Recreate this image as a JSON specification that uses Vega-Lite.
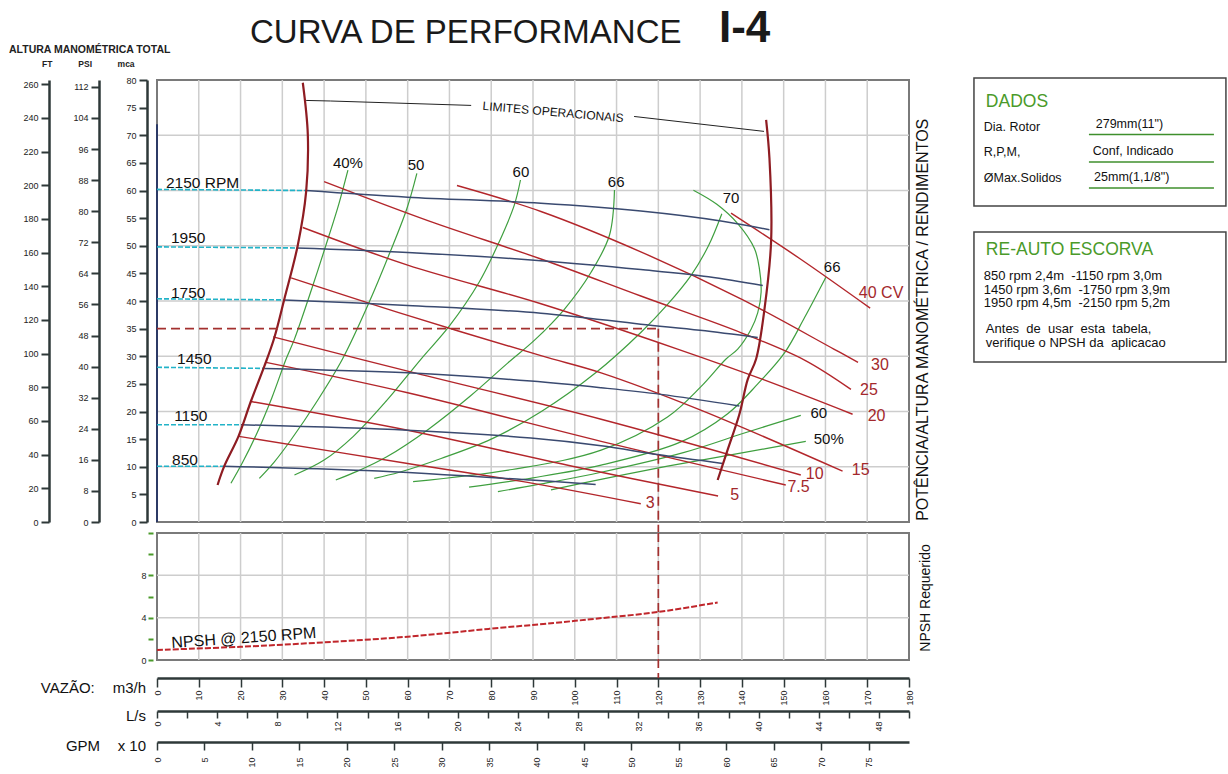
{
"$schema":"https://vega.github.io/schema/vega-lite/v6.json",
"padding":{"left":8,"top":5,"right":0,"bottom":0},
"background":"#ffffff",
"bounds":"flush",
"spacing":11,
"config":{"view":{"stroke":"#7a7a7a","strokeWidth":2},"font":"Liberation Sans"},
"datasets":{
"hd":[{"r":"2150","q":0,"h":60.2},{"r":"2150","q":35.7,"h":60.0},{"r":"1950","q":0,"h":49.8},{"r":"1950","q":33.4,"h":49.6},{"r":"1750","q":0,"h":40.4},{"r":"1750","q":30.4,"h":40.2},{"r":"1450","q":0,"h":28.0},{"r":"1450","q":25.7,"h":27.8},{"r":"1150","q":0,"h":17.6},{"r":"1150","q":20.1,"h":17.6},{"r":"850","q":0,"h":10.1},{"r":"850","q":16.1,"h":10.1}],
"hs":[{"r":"2150","q":35.7,"h":60.0},{"r":"2150","q":60,"h":58.8},{"r":"2150","q":91.9,"h":57.7},{"r":"2150","q":115.8,"h":56.3},{"r":"2150","q":135,"h":54.5},{"r":"2150","q":146.6,"h":52.9},
{"r":"1950","q":33.4,"h":49.6},{"r":"1950","q":60,"h":48.8},{"r":"1950","q":91.9,"h":47.3},{"r":"1950","q":115.8,"h":45.7},{"r":"1950","q":132,"h":44.4},{"r":"1950","q":145,"h":42.8},
{"r":"1750","q":30.4,"h":40.2},{"r":"1750","q":60,"h":39.2},{"r":"1750","q":91.9,"h":37.8},{"r":"1750","q":115.8,"h":35.8},{"r":"1750","q":130,"h":34.7},{"r":"1750","q":143.8,"h":33.4},
{"r":"1450","q":25.7,"h":27.8},{"r":"1450","q":60,"h":27.0},{"r":"1450","q":89.5,"h":25.5},{"r":"1450","q":106.3,"h":24.3},{"r":"1450","q":120.6,"h":23.1},{"r":"1450","q":139.4,"h":21.0},
{"r":"1150","q":20.1,"h":17.6},{"r":"1150","q":60,"h":16.6},{"r":"1150","q":89.5,"h":15.2},{"r":"1150","q":106.3,"h":13.8},{"r":"1150","q":119.8,"h":12.2},{"r":"1150","q":135.4,"h":10.6},
{"r":"850","q":16.1,"h":10.1},{"r":"850","q":50,"h":9.3},{"r":"850","q":89.5,"h":7.6},{"r":"850","q":105,"h":6.8}],
"pw":[{"c":"40","q":137.4,"h":55.9},{"c":"40","q":154,"h":47.6},{"c":"40","q":170.7,"h":38.7},
{"c":"30","q":71.8,"h":60.9},{"c":"30","q":91.9,"h":56.2},{"c":"30","q":115.8,"h":48.9},{"c":"30","q":140,"h":40.3},{"c":"30","q":162,"h":31.3},{"c":"30","q":167.8,"h":28.9},
{"c":"25","q":40,"h":61.6},{"c":"25","q":65,"h":54.5},{"c":"25","q":91.9,"h":47.6},{"c":"25","q":115.8,"h":40.9},{"c":"25","q":140,"h":34.2},{"c":"25","q":155,"h":29.3},{"c":"25","q":166.1,"h":24.0},
{"c":"20","q":34.9,"h":53.3},{"c":"20","q":60,"h":46.5},{"c":"20","q":91.9,"h":39.5},{"c":"20","q":124.6,"h":31.3},{"c":"20","q":145,"h":25.8},{"c":"20","q":166.5,"h":19.5},
{"c":"15","q":32.1,"h":44.2},{"c":"15","q":60,"h":37.4},{"c":"15","q":91.9,"h":30.1},{"c":"15","q":106.3,"h":27.0},{"c":"15","q":130,"h":20.3},{"c":"15","q":164.1,"h":9.2},
{"c":"10","q":27.8,"h":33.5},{"c":"10","q":60,"h":27.3},{"c":"10","q":106.3,"h":18.6},{"c":"10","q":154.1,"h":8.5},
{"c":"7.5","q":26.1,"h":28.9},{"c":"7.5","q":60,"h":23.4},{"c":"7.5","q":106.3,"h":14.6},{"c":"7.5","q":150.5,"h":6.7},
{"c":"5","q":22.5,"h":21.8},{"c":"5","q":60,"h":16.6},{"c":"5","q":100,"h":10.0},{"c":"5","q":134.3,"h":4.7},
{"c":"3","q":19.6,"h":15.5},{"c":"3","q":60,"h":10.6},{"c":"3","q":90,"h":7.0},{"c":"3","q":115.8,"h":3.3}],
"eff":[{"c":"L40","i":0,"q":45.7,"h":63.7},{"c":"L40","i":1,"q":43.5,"h":57.5},{"c":"L40","i":2,"q":41.2,"h":51.9},{"c":"L40","i":3,"q":37.3,"h":42.8},{"c":"L40","i":4,"q":32.9,"h":33.1},{"c":"L40","i":5,"q":30.9,"h":29.5},{"c":"L40","i":6,"q":27.5,"h":22.5},{"c":"L40","i":7,"q":24,"h":16.2},{"c":"L40","i":8,"q":20.5,"h":10.8},{"c":"L40","i":9,"q":17.7,"h":7.0},
{"c":"L50","i":0,"q":62.2,"h":63.1},{"c":"L50","i":1,"q":59.8,"h":56.7},{"c":"L50","i":2,"q":55.6,"h":48.5},{"c":"L50","i":3,"q":50.8,"h":39.8},{"c":"L50","i":4,"q":44.4,"h":29.5},{"c":"L50","i":5,"q":38,"h":21.5},{"c":"L50","i":6,"q":32,"h":14.8},{"c":"L50","i":7,"q":28,"h":10.8},{"c":"L50","i":8,"q":24.5,"h":7.9},
{"c":"L60","i":0,"q":87,"h":61.9},{"c":"L60","i":1,"q":85.5,"h":57.3},{"c":"L60","i":2,"q":81.9,"h":50.7},{"c":"L60","i":3,"q":77.1,"h":43.4},{"c":"L60","i":4,"q":70,"h":35.5},{"c":"L60","i":5,"q":63.2,"h":29.5},{"c":"L60","i":6,"q":55,"h":22},{"c":"L60","i":7,"q":47,"h":15.5},{"c":"L60","i":8,"q":40,"h":11.2},{"c":"L60","i":9,"q":32.9,"h":8.5},
{"c":"L66","i":0,"q":109.5,"h":60.1},{"c":"L66","i":1,"q":108.3,"h":51.9},{"c":"L66","i":2,"q":103.9,"h":45.2},{"c":"L66","i":3,"q":97.5,"h":38.5},{"c":"L66","i":4,"q":90.5,"h":33},{"c":"L66","i":5,"q":84,"h":28.8},{"c":"L66","i":6,"q":75,"h":22.8},{"c":"L66","i":7,"q":65,"h":16.8},{"c":"L66","i":8,"q":55,"h":11.8},{"c":"L66","i":9,"q":48,"h":9.2},{"c":"L66","i":10,"q":42.8,"h":7.6},
{"c":"L70","i":0,"q":135.2,"h":55.8},{"c":"L70","i":1,"q":132,"h":50},{"c":"L70","i":2,"q":127.8,"h":44.6},{"c":"L70","i":3,"q":122,"h":39.2},{"c":"L70","i":4,"q":115.8,"h":34.3},{"c":"L70","i":5,"q":105,"h":27},{"c":"L70","i":6,"q":92,"h":20},{"c":"L70","i":7,"q":80,"h":15},{"c":"L70","i":8,"q":68,"h":11.5},{"c":"L70","i":9,"q":58,"h":9},{"c":"L70","i":10,"q":52,"h":7.9},
{"c":"R70","i":0,"q":128.4,"h":60.05},{"c":"R70","i":1,"q":134,"h":57.5},{"c":"R70","i":2,"q":139,"h":54},{"c":"R70","i":3,"q":143,"h":49.5},{"c":"R70","i":4,"q":144.2,"h":45.8},{"c":"R70","i":5,"q":144.6,"h":41.6},{"c":"R70","i":6,"q":143.8,"h":37.9},{"c":"R70","i":7,"q":142.2,"h":34.9},{"c":"R70","i":8,"q":139,"h":31.3},{"c":"R70","i":9,"q":136.2,"h":29.5},{"c":"R70","i":10,"q":130.2,"h":24.5},{"c":"R70","i":11,"q":122.2,"h":19},{"c":"R70","i":12,"q":106.3,"h":13},{"c":"R70","i":13,"q":85,"h":9.5},{"c":"R70","i":14,"q":61.3,"h":7.3},
{"c":"R66","i":0,"q":160.1,"h":44.3},{"c":"R66","i":1,"q":155,"h":37},{"c":"R66","i":2,"q":150.2,"h":30.6},{"c":"R66","i":3,"q":143.8,"h":25},{"c":"R66","i":4,"q":136.6,"h":19.6},{"c":"R66","i":5,"q":125.4,"h":14.5},{"c":"R66","i":6,"q":106.3,"h":10.3},{"c":"R66","i":7,"q":90,"h":8},{"c":"R66","i":8,"q":74.7,"h":6.3},
{"c":"R60","i":0,"q":154.1,"h":19.3},{"c":"R60","i":1,"q":140.6,"h":16.1},{"c":"R60","i":2,"q":126.2,"h":12.6},{"c":"R60","i":3,"q":106.3,"h":9},{"c":"R60","i":4,"q":95,"h":7.3},{"c":"R60","i":5,"q":81.6,"h":5.5},
{"c":"R50","i":0,"q":155.3,"h":14.6},{"c":"R50","i":1,"q":140,"h":12.5},{"c":"R50","i":2,"q":122.2,"h":10.1},{"c":"R50","i":3,"q":108,"h":8},{"c":"R50","i":4,"q":94.3,"h":5.8}],
"lim":[{"c":"L","i":0,"q":34.9,"h":79.5},{"c":"L","i":1,"q":36.1,"h":70.1},{"c":"L","i":2,"q":35.7,"h":59.8},{"c":"L","i":3,"q":33.7,"h":50.1},{"c":"L","i":4,"q":30.5,"h":40.4},{"c":"L","i":5,"q":28.1,"h":33.4},{"c":"L","i":6,"q":25.7,"h":28.2},{"c":"L","i":7,"q":22.5,"h":21.9},{"c":"L","i":8,"q":19.5,"h":15.5},{"c":"L","i":9,"q":16.1,"h":10.1},{"c":"L","i":10,"q":14.5,"h":6.7},
{"c":"R","i":0,"q":145.8,"h":72.8},{"c":"R","i":1,"q":146.6,"h":65.8},{"c":"R","i":2,"q":147,"h":50.9},{"c":"R","i":3,"q":145.4,"h":38.5},{"c":"R","i":4,"q":143.4,"h":29.5},{"c":"R","i":5,"q":141.4,"h":25.8},{"c":"R","i":6,"q":139.4,"h":19.5},{"c":"R","i":7,"q":136.6,"h":13.1},{"c":"R","i":8,"q":134.2,"h":7.6}],
"lead":[{"c":"a","i":0,"q":35.7,"h":76.3},{"c":"a","i":1,"q":41.5,"h":76.2},{"c":"a","i":2,"q":75.2,"h":75.4},{"c":"b","i":0,"q":114.2,"h":73.4},{"c":"b","i":1,"q":145.3,"h":70.7}],
"npsh":[{"q":0,"n":0.95},{"q":20,"n":1.25},{"q":39.6,"n":1.66},{"q":60,"n":2.2},{"q":79.4,"n":2.94},{"q":95,"n":3.5},{"q":105,"n":3.9},{"q":120,"n":4.54},{"q":134.2,"n":5.44}]
},
"vconcat":[
{
"width":752,"height":442,
"resolve":{"scale":{"y":"independent"}},
"layer":[
{"data":{"values":[{"q":10},{"q":20},{"q":30},{"q":40},{"q":50},{"q":60},{"q":70},{"q":80},{"q":90},{"q":100},{"q":110},{"q":120},{"q":130},{"q":140},{"q":150},{"q":160},{"q":170}]},
"mark":{"type":"rule","color":"#cdcdcd","strokeWidth":1.5},
"encoding":{"x":{"field":"q","type":"quantitative","scale":{"domain":[0,180],"nice":false},"axis":null},"y":{"datum":0,"type":"quantitative","scale":{"domain":[0,80],"nice":false},"axis":null},"y2":{"datum":80}}},
{"data":{"values":[{"h":10},{"h":20},{"h":30},{"h":40},{"h":50},{"h":60},{"h":70}]},
"mark":{"type":"rule","color":"#cdcdcd","strokeWidth":1.5},
"encoding":{"x":{"datum":0,"type":"quantitative","scale":{"domain":[0,180],"nice":false},"axis":null},"x2":{"datum":180},"y":{"field":"h","type":"quantitative","scale":{"domain":[0,80],"nice":false},
"axis":{"orient":"left","offset":10,"values":[0,5,10,15,20,25,30,35,40,45,50,55,60,65,70,75,80],"title":null,"grid":false,"domainColor":"#2e3838","domainWidth":2.5,"tickColor":"#2e3838","tickWidth":2,"tickSize":8,"labelFontSize":9,"labelColor":"#222","labelPadding":3,"labelFlush":false,"labelOverlap":false,"labelFont":"Liberation Sans Narrow, Liberation Sans"}}}},
{"data":{"values":[{"q":0,"h":0,"h2":72}]},
"mark":{"type":"rule","color":"#2c3a66","strokeWidth":2},
"encoding":{"x":{"field":"q","type":"quantitative","scale":{"domain":[0,180],"nice":false},"axis":null},"y":{"field":"h","type":"quantitative","scale":{"domain":[0,80],"nice":false},"axis":null},"y2":{"field":"h2"}}},
{"data":{"name":"hd"},
"mark":{"type":"line","color":"#22b3c8","strokeWidth":1.6,"strokeDash":[5,2]},
"encoding":{"x":{"field":"q","type":"quantitative","scale":{"domain":[0,180],"nice":false},"axis":null},"y":{"field":"h","type":"quantitative","scale":{"domain":[0,80],"nice":false},"axis":null},"detail":{"field":"r"}}},
{"data":{"name":"eff"},
"mark":{"type":"line","color":"#3f9f3f","strokeWidth":1.2,"interpolate":"catmull-rom"},
"encoding":{"x":{"field":"q","type":"quantitative","scale":{"domain":[0,180],"nice":false},"axis":null},"y":{"field":"h","type":"quantitative","scale":{"domain":[0,80],"nice":false},"axis":null},"detail":{"field":"c"},"order":{"field":"i","type":"quantitative"}}},
{"data":{"name":"pw"},
"mark":{"type":"line","color":"#b3262b","strokeWidth":1.4,"interpolate":"catmull-rom"},
"encoding":{"x":{"field":"q","type":"quantitative","scale":{"domain":[0,180],"nice":false},"axis":null},"y":{"field":"h","type":"quantitative","scale":{"domain":[0,80],"nice":false},"axis":null},"detail":{"field":"c"}}},
{"data":{"name":"hs"},
"mark":{"type":"line","color":"#3a4a70","strokeWidth":1.5,"interpolate":"catmull-rom"},
"encoding":{"x":{"field":"q","type":"quantitative","scale":{"domain":[0,180],"nice":false},"axis":null},"y":{"field":"h","type":"quantitative","scale":{"domain":[0,80],"nice":false},"axis":null},"detail":{"field":"r"}}},
{"data":{"name":"lim"},
"mark":{"type":"line","color":"#8e1c22","strokeWidth":2.2,"interpolate":"catmull-rom"},
"encoding":{"x":{"field":"q","type":"quantitative","scale":{"domain":[0,180],"nice":false},"axis":null},"y":{"field":"h","type":"quantitative","scale":{"domain":[0,80],"nice":false},"axis":null},"detail":{"field":"c"},"order":{"field":"i","type":"quantitative"}}},
{"data":{"name":"lead"},
"mark":{"type":"line","color":"#222","strokeWidth":1},
"encoding":{"x":{"field":"q","type":"quantitative","scale":{"domain":[0,180],"nice":false},"axis":null},"y":{"field":"h","type":"quantitative","scale":{"domain":[0,80],"nice":false},"axis":null},"detail":{"field":"c"},"order":{"field":"i","type":"quantitative"}}},
{"data":{"values":[{"q":0,"q2":120,"h":35,"h2":35},{"q":120,"q2":120,"h":35,"h2":-2}]},
"mark":{"type":"rule","color":"#a3302f","strokeWidth":1.7,"strokeDash":[9,5]},
"encoding":{"x":{"field":"q","type":"quantitative","scale":{"domain":[0,180],"nice":false},"axis":null},"x2":{"field":"q2"},"y":{"field":"h","type":"quantitative","scale":{"domain":[0,80],"nice":false},"axis":null},"y2":{"field":"h2"}}},
{"data":{"values":[{"t":"2150 RPM","q":2.15,"h":61.4},{"t":"1950","q":3.35,"h":51.4},{"t":"1750","q":3.35,"h":41.4},{"t":"1450","q":4.8,"h":29.5},{"t":"1150","q":4.1,"h":19.2},{"t":"850","q":3.6,"h":11.2}]},
"mark":{"type":"text","align":"left","baseline":"middle","fontSize":15.5,"color":"#111"},
"encoding":{"x":{"field":"q","type":"quantitative","scale":{"domain":[0,180],"nice":false},"axis":null},"y":{"field":"h","type":"quantitative","scale":{"domain":[0,80],"nice":false},"axis":null},"text":{"field":"t"}}},
{"data":{"values":[{"t":"40%","q":45.7,"h":65.0},{"t":"50","q":62.0,"h":64.6},{"t":"60","q":87.1,"h":63.3},{"t":"66","q":109.9,"h":61.5},{"t":"70","q":137.4,"h":58.6},{"t":"66","q":161.6,"h":46.2},{"t":"60","q":158.4,"h":19.7},{"t":"50%","q":160.8,"h":15.0}]},
"mark":{"type":"text","align":"center","baseline":"middle","fontSize":15,"color":"#111"},
"encoding":{"x":{"field":"q","type":"quantitative","scale":{"domain":[0,180],"nice":false},"axis":null},"y":{"field":"h","type":"quantitative","scale":{"domain":[0,80],"nice":false},"axis":null},"text":{"field":"t"}}},
{"data":{"values":[{"t":"40 CV","q":168.0,"h":41.4},{"t":"30","q":170.9,"h":28.4},{"t":"25","q":168.3,"h":23.9},{"t":"20","q":170.1,"h":19.1},{"t":"15","q":166.3,"h":9.4},{"t":"10","q":155.3,"h":8.7},{"t":"7.5","q":150.9,"h":6.4},{"t":"5","q":137.2,"h":4.9},{"t":"3","q":117.0,"h":3.4}]},
"mark":{"type":"text","align":"left","baseline":"middle","fontSize":16,"color":"#a3282c"},
"encoding":{"x":{"field":"q","type":"quantitative","scale":{"domain":[0,180],"nice":false},"axis":null},"y":{"field":"h","type":"quantitative","scale":{"domain":[0,80],"nice":false},"axis":null},"text":{"field":"t"}}},
{"data":{"values":[{"t":"LIMITES OPERACIONAIS","q":94.8,"h":74.2}]},
"mark":{"type":"text","align":"center","baseline":"middle","fontSize":12,"angle":5,"color":"#111"},
"encoding":{"x":{"field":"q","type":"quantitative","scale":{"domain":[0,180],"nice":false},"axis":null},"y":{"field":"h","type":"quantitative","scale":{"domain":[0,80],"nice":false},"axis":null},"text":{"field":"t"}}},
{"data":{"values":[{"t":"CURVA DE PERFORMANCE","q":22.26,"h":86.7}]},
"mark":{"type":"text","align":"left","baseline":"alphabetic","fontSize":33,"color":"#1a1a1a"},
"encoding":{"x":{"field":"q","type":"quantitative","scale":{"domain":[0,180],"nice":false},"axis":null},"y":{"field":"h","type":"quantitative","scale":{"domain":[0,80],"nice":false},"axis":null},"text":{"field":"t"}}},
{"data":{"values":[{"t":"I-4","q":134.5,"h":86.9}]},
"mark":{"type":"text","align":"left","baseline":"alphabetic","fontSize":44,"fontWeight":"bold","color":"#1a1a1a"},
"encoding":{"x":{"field":"q","type":"quantitative","scale":{"domain":[0,180],"nice":false},"axis":null},"y":{"field":"h","type":"quantitative","scale":{"domain":[0,80],"nice":false},"axis":null},"text":{"field":"t"}}},
{"data":{"values":[{"t":"ALTURA MANOMÉTRICA TOTAL","q":-35.42,"h":85.4}]},
"mark":{"type":"text","align":"left","baseline":"middle","fontSize":10.5,"fontWeight":"bold","color":"#222"},
"encoding":{"x":{"field":"q","type":"quantitative","scale":{"domain":[0,180],"nice":false},"axis":null},"y":{"field":"h","type":"quantitative","scale":{"domain":[0,80],"nice":false},"axis":null},"text":{"field":"t"}}},
{"data":{"values":[{"t":"FT","q":-26.3,"h":82.9},{"t":"PSI","q":-17.2,"h":82.9},{"t":"mca","q":-7.4,"h":82.9}]},
"mark":{"type":"text","align":"center","baseline":"middle","fontSize":8.5,"fontWeight":"bold","color":"#222"},
"encoding":{"x":{"field":"q","type":"quantitative","scale":{"domain":[0,180],"nice":false},"axis":null},"y":{"field":"h","type":"quantitative","scale":{"domain":[0,80],"nice":false},"axis":null},"text":{"field":"t"}}},
{"data":{"values":[{"t":"POTÊNCIA/ALTURA MANOMÉTRICA / RENDIMENTOS","q":183.3,"h":36.6}]},
"mark":{"type":"text","align":"center","baseline":"middle","fontSize":16,"angle":270,"color":"#111"},
"encoding":{"x":{"field":"q","type":"quantitative","scale":{"domain":[0,180],"nice":false},"axis":null},"y":{"field":"h","type":"quantitative","scale":{"domain":[0,80],"nice":false},"axis":null},"text":{"field":"t"}}},
{"data":{"values":[{"q":195.55,"q2":255.86,"h":80.36,"h2":57.19},{"q":195.55,"q2":255.86,"h":52.49,"h2":28.96}]},
"mark":{"type":"rect","filled":false,"color":"#444","strokeWidth":1.5},
"encoding":{"x":{"field":"q","type":"quantitative","scale":{"domain":[0,180],"nice":false},"axis":null},"x2":{"field":"q2"},"y":{"field":"h","type":"quantitative","scale":{"domain":[0,80],"nice":false},"axis":null},"y2":{"field":"h2"}}},
{"data":{"values":[{"q":223.07,"q2":252.99,"h":70.14},{"q":223.07,"q2":252.99,"h":65.16},{"q":223.07,"q2":252.99,"h":60.45}]},
"mark":{"type":"rule","color":"#3f8f2c","strokeWidth":1.6},
"encoding":{"x":{"field":"q","type":"quantitative","scale":{"domain":[0,180],"nice":false},"axis":null},"x2":{"field":"q2"},"y":{"field":"h","type":"quantitative","scale":{"domain":[0,80],"nice":false},"axis":null}}},
{"data":{"values":[{"t":"DADOS","q":198.4,"h":76.0},{"t":"RE-AUTO ESCORVA","q":198.4,"h":49.2}]},
"mark":{"type":"text","align":"left","baseline":"middle","fontSize":17.5,"color":"#4a9a2a"},
"encoding":{"x":{"field":"q","type":"quantitative","scale":{"domain":[0,180],"nice":false},"axis":null},"y":{"field":"h","type":"quantitative","scale":{"domain":[0,80],"nice":false},"axis":null},"text":{"field":"t"}}},
{"data":{"values":[{"t":"Dia. Rotor","q":197.9,"h":71.5},{"t":"279mm(11\")","q":224.7,"h":72.1},{"t":"R,P,M,","q":197.9,"h":67.0},{"t":"Conf, Indicado","q":224.0,"h":67.2},{"t":"ØMax.Solidos","q":197.9,"h":62.3},{"t":"25mm(1,1/8\")","q":224.3,"h":62.4}]},
"mark":{"type":"text","align":"left","baseline":"middle","fontSize":12.5,"color":"#111"},
"encoding":{"x":{"field":"q","type":"quantitative","scale":{"domain":[0,180],"nice":false},"axis":null},"y":{"field":"h","type":"quantitative","scale":{"domain":[0,80],"nice":false},"axis":null},"text":{"field":"t"}}},
{"data":{"values":[{"t":"850 rpm 2,4m \u00a0-1150 rpm 3,0m","q":197.9,"h":44.5},{"t":"1450 rpm 3,6m \u00a0-1750 rpm 3,9m","q":197.9,"h":42.0},{"t":"1950 rpm 4,5m \u00a0-2150 rpm 5,2m","q":197.9,"h":39.6},{"t":"Antes \u00a0de \u00a0usar \u00a0esta \u00a0tabela,","q":198.4,"h":34.9},{"t":"verifique o NPSH da \u00a0aplicacao","q":198.4,"h":32.4}]},
"mark":{"type":"text","align":"left","baseline":"middle","fontSize":13,"color":"#111"},
"encoding":{"x":{"field":"q","type":"quantitative","scale":{"domain":[0,180],"nice":false},"axis":null},"y":{"field":"h","type":"quantitative","scale":{"domain":[0,80],"nice":false},"axis":null},"text":{"field":"t"}}},
{"data":{"values":[{"ft":0},{"ft":262.47}]},
"mark":{"type":"point","opacity":0},
"encoding":{"x":{"datum":0,"type":"quantitative","scale":{"domain":[0,180],"nice":false},"axis":null},"y":{"field":"ft","type":"quantitative","scale":{"domain":[0,262.47],"nice":false},
"axis":{"orient":"left","offset":108,"values":[0,20,40,60,80,100,120,140,160,180,200,220,240,260],"title":null,"grid":false,"domainColor":"#2e3838","domainWidth":2.5,"tickColor":"#2e3838","tickWidth":2,"tickSize":8,"labelFontSize":9,"labelColor":"#222","labelPadding":3,"labelFlush":false,"labelOverlap":false,"labelFont":"Liberation Sans Narrow, Liberation Sans"}}}},
{"data":{"values":[{"psi":0},{"psi":113.78}]},
"mark":{"type":"point","opacity":0},
"encoding":{"x":{"datum":0,"type":"quantitative","scale":{"domain":[0,180],"nice":false},"axis":null},"y":{"field":"psi","type":"quantitative","scale":{"domain":[0,113.78],"nice":false},
"axis":{"orient":"left","offset":58,"values":[0,8,16,24,32,40,48,56,64,72,80,88,96,104,112],"title":null,"grid":false,"domainColor":"#2e3838","domainWidth":2.5,"tickColor":"#2e3838","tickWidth":2,"tickSize":8,"labelFontSize":9,"labelColor":"#222","labelPadding":3,"labelFlush":false,"labelOverlap":false,"labelFont":"Liberation Sans Narrow, Liberation Sans"}}}}
]
},
{
"width":752,"height":127,
"resolve":{"scale":{"x":"independent","y":"independent"}},
"layer":[
{"data":{"values":[{"q":10},{"q":20},{"q":30},{"q":40},{"q":50},{"q":60},{"q":70},{"q":80},{"q":90},{"q":100},{"q":110},{"q":120},{"q":130},{"q":140},{"q":150},{"q":160},{"q":170}]},
"mark":{"type":"rule","color":"#cdcdcd","strokeWidth":1.5},
"encoding":{"x":{"field":"q","type":"quantitative","scale":{"domain":[0,180],"nice":false},
"axis":{"orient":"bottom","offset":18,"values":[0,10,20,30,40,50,60,70,80,90,100,110,120,130,140,150,160,170,180],"title":null,"grid":false,"labelAngle":270,"domainColor":"#2e3838","domainWidth":2.5,"tickColor":"#2e3838","tickWidth":1.5,"tickSize":9,"labelFontSize":9,"labelColor":"#222","labelPadding":3,"labelFlush":false,"labelOverlap":false,"labelFont":"Liberation Sans Narrow, Liberation Sans"}},
"y":{"datum":0,"type":"quantitative","scale":{"domain":[0,12],"nice":false},"axis":null},"y2":{"datum":12}}},
{"data":{"values":[{"n":4},{"n":8}]},
"mark":{"type":"rule","color":"#cdcdcd","strokeWidth":1.5},
"encoding":{"x":{"datum":0,"type":"quantitative","scale":{"domain":[0,180],"nice":false},"axis":null},"x2":{"datum":180},"y":{"field":"n","type":"quantitative","scale":{"domain":[0,12],"nice":false},
"axis":{"orient":"left","offset":4,"values":[0,2,4,6,8,10,12],"labelExpr":"datum.value==0||datum.value==4||datum.value==8 ? datum.label : ''","title":null,"grid":false,"domain":false,"tickColor":"#4a9a2a","tickWidth":2,"tickSize":5,"labelFontSize":9,"labelColor":"#222","labelPadding":2,"labelFlush":false,"labelOverlap":false,"labelFont":"Liberation Sans Narrow, Liberation Sans"}}}},
{"data":{"name":"npsh"},
"mark":{"type":"line","color":"#c0262b","strokeWidth":2,"strokeDash":[6,2],"interpolate":"catmull-rom"},
"encoding":{"x":{"field":"q","type":"quantitative","scale":{"domain":[0,180],"nice":false},"axis":null},"y":{"field":"n","type":"quantitative","scale":{"domain":[0,12],"nice":false},"axis":null}}},
{"data":{"values":[{"q":120,"n":12,"n2":-1.7}]},
"mark":{"type":"rule","color":"#a3302f","strokeWidth":1.7,"strokeDash":[9,5]},
"encoding":{"x":{"field":"q","type":"quantitative","scale":{"domain":[0,180],"nice":false},"axis":null},"y":{"field":"n","type":"quantitative","scale":{"domain":[0,12],"nice":false},"axis":null},"y2":{"field":"n2"}}},
{"data":{"values":[{"t":"NPSH @ 2150 RPM","q":20.8,"n":2.08}]},
"mark":{"type":"text","align":"center","baseline":"middle","fontSize":16,"angle":-4,"color":"#111"},
"encoding":{"x":{"field":"q","type":"quantitative","scale":{"domain":[0,180],"nice":false},"axis":null},"y":{"field":"n","type":"quantitative","scale":{"domain":[0,12],"nice":false},"axis":null},"text":{"field":"t"}}},
{"data":{"values":[{"t":"NPSH Requerido","q":184,"n":5.86}]},
"mark":{"type":"text","align":"center","baseline":"middle","fontSize":14,"angle":270,"color":"#111"},
"encoding":{"x":{"field":"q","type":"quantitative","scale":{"domain":[0,180],"nice":false},"axis":null},"y":{"field":"n","type":"quantitative","scale":{"domain":[0,12],"nice":false},"axis":null},"text":{"field":"t"}}},
{"data":{"values":[{"t":"VAZÃO:","q":-27.8,"n":-2.65},{"t":"GPM","q":-21.8,"n":-8.13}]},
"mark":{"type":"text","align":"left","baseline":"middle","fontSize":15,"color":"#111"},
"encoding":{"x":{"field":"q","type":"quantitative","scale":{"domain":[0,180],"nice":false},"axis":null},"y":{"field":"n","type":"quantitative","scale":{"domain":[0,12],"nice":false},"axis":null},"text":{"field":"t"}}},
{"data":{"values":[{"t":"m3/h","q":-2.63,"n":-2.65},{"t":"L/s","q":-2.63,"n":-5.29},{"t":"x 10","q":-2.63,"n":-8.13}]},
"mark":{"type":"text","align":"right","baseline":"middle","fontSize":15,"color":"#111"},
"encoding":{"x":{"field":"q","type":"quantitative","scale":{"domain":[0,180],"nice":false},"axis":null},"y":{"field":"n","type":"quantitative","scale":{"domain":[0,12],"nice":false},"axis":null},"text":{"field":"t"}}},
{"data":{"values":[{"ls":0},{"ls":50}]},
"mark":{"type":"point","opacity":0},
"encoding":{"x":{"field":"ls","type":"quantitative","scale":{"domain":[0,50],"nice":false},
"axis":{"orient":"bottom","offset":51,"values":[0,2,4,6,8,10,12,14,16,18,20,22,24,26,28,30,32,34,36,38,40,42,44,46,48,50],"labelExpr":"datum.value % 4 == 0 && datum.value < 50 ? datum.label : ''","title":null,"grid":false,"labelAngle":270,"domainColor":"#2e3838","domainWidth":2.5,"tickColor":"#2e3838","tickWidth":1.5,"tickSize":7,"labelFontSize":9,"labelColor":"#222","labelPadding":3,"labelFlush":false,"labelOverlap":false,"labelFont":"Liberation Sans Narrow, Liberation Sans"}},
"y":{"datum":0,"type":"quantitative","scale":{"domain":[0,12],"nice":false},"axis":null}}},
{"data":{"values":[{"g":0},{"g":79.25}]},
"mark":{"type":"point","opacity":0},
"encoding":{"x":{"field":"g","type":"quantitative","scale":{"domain":[0,79.25],"nice":false},
"axis":{"orient":"bottom","offset":82,"values":[0,5,10,15,20,25,30,35,40,45,50,55,60,65,70,75],"title":null,"grid":false,"labelAngle":270,"domainColor":"#2e3838","domainWidth":2.5,"tickColor":"#2e3838","tickWidth":1.5,"tickSize":8,"labelFontSize":9,"labelColor":"#222","labelPadding":7,"labelFlush":false,"labelOverlap":false,"labelFont":"Liberation Sans Narrow, Liberation Sans"}},
"y":{"datum":0,"type":"quantitative","scale":{"domain":[0,12],"nice":false},"axis":null}}}
]
}
]
}
